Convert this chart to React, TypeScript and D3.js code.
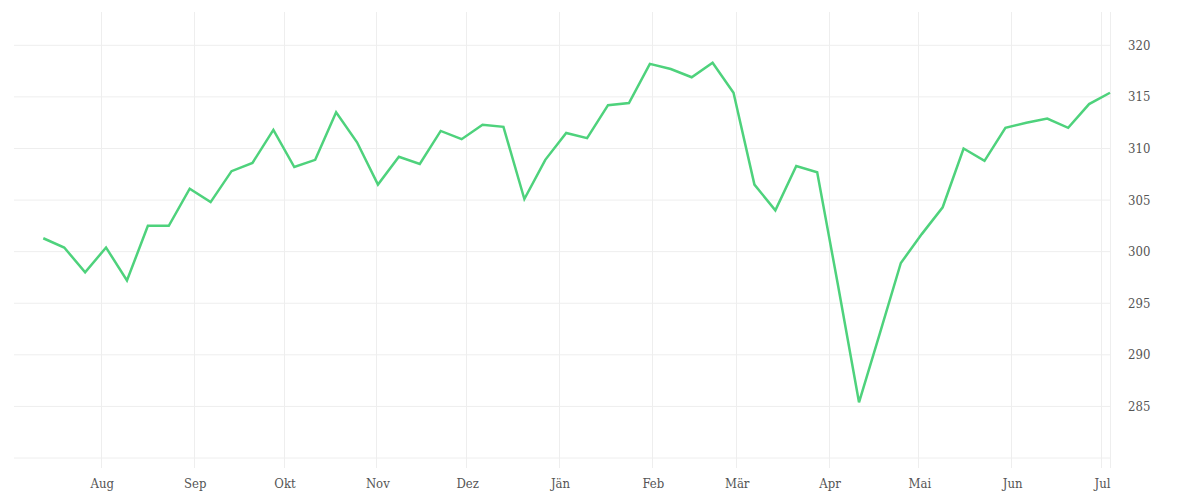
import React from "react";
import * as d3 from "d3";

const startDate = "2024-07-12";
const values: number[] = [
  301.3, 300.4, 298.0, 300.4, 297.2, 302.5, 302.5, 306.1, 304.8, 307.8,
  308.6, 311.8, 308.2, 308.9, 313.5, 310.6, 306.5, 309.2, 308.5, 311.7,
  310.9, 312.3, 312.1, 305.1, 308.9, 311.5, 311.0, 314.2, 314.4, 318.2,
  317.7, 316.9, 318.3, 315.4, 306.5, 304.0, 308.3, 307.7, 296.7, 285.4,
  292.1, 298.9, 301.7, 304.3, 310.0, 308.8, 312.0, 312.5, 312.9, 312.0,
  314.3, 315.4,
];
const monthLabels = ["Aug", "Sep", "Okt", "Nov", "Dez", "Jän", "Feb", "Mär", "Apr", "Mai", "Jun", "Jul"];
const monthDates = [
  "2024-08-01", "2024-09-01", "2024-10-01", "2024-11-01", "2024-12-01", "2025-01-01",
  "2025-02-01", "2025-03-01", "2025-04-01", "2025-05-01", "2025-06-01", "2025-07-01",
];
const yGrid = [280, 285, 290, 295, 300, 305, 310, 315, 320];
const yLabels = [285, 290, 295, 300, 305, 310, 315, 320];

const W = 1200;
const H = 500;

export default function App() {
  const parse = d3.utcParse("%Y-%m-%d");
  const start = parse(startDate)!;
  const data = values.map((v, i) => ({ date: d3.utcDay.offset(start, i * 7), v }));
  const last = data[data.length - 1].date;
  // axis scale (month gridlines)
  const x = d3.scaleUtc().domain([parse("2024-07-03")!, last]).range([14, 1110]);
  // data scale
  const xd = d3.scaleUtc().domain([start, last]).range([43.3, 1110]);
  const y = d3.scaleLinear().domain([280, 320]).range([458, 45.3]);
  const line = d3
    .line<{ date: Date; v: number }>()
    .x((d) => xd(d.date))
    .y((d) => y(d.v));
  const font = "'DejaVu Serif Condensed', 'DejaVu Serif', serif";
  return (
    <svg
      width={W}
      height={H}
      style={{ position: "absolute", left: 0, top: 0, background: "#fff" }}
    >
      <g>
        {yGrid.map((t) => (
          <line key={t} x1={14} x2={1110} y1={y(t)} y2={y(t)} stroke="#eeeeee" strokeWidth={1} />
        ))}
        {monthDates.map((d) => {
          const xx = Math.round(x(parse(d)!)) + 0.5;
          return <line key={d} x1={xx} x2={xx} y1={12} y2={468} stroke="#eeeeee" strokeWidth={1} />;
        })}
        <line x1={1110.5} x2={1110.5} y1={12} y2={468} stroke="#eeeeee" strokeWidth={1} />
      </g>
      <path d={line(data) || ""} fill="none" stroke="#4ed27c" strokeWidth={2.5} strokeLinejoin="miter" />
      <g fontFamily={font} fontSize={13} fill="#555">
        {yLabels.map((t) => (
          <text key={t} x={1128} y={y(t)} dy="0.35em">
            {t}
          </text>
        ))}
        {monthDates.map((d, i) => (
          <text key={d} x={x(parse(d)!) + 1.5} y={488} textAnchor="middle">
            {monthLabels[i]}
          </text>
        ))}
      </g>
    </svg>
  );
}
